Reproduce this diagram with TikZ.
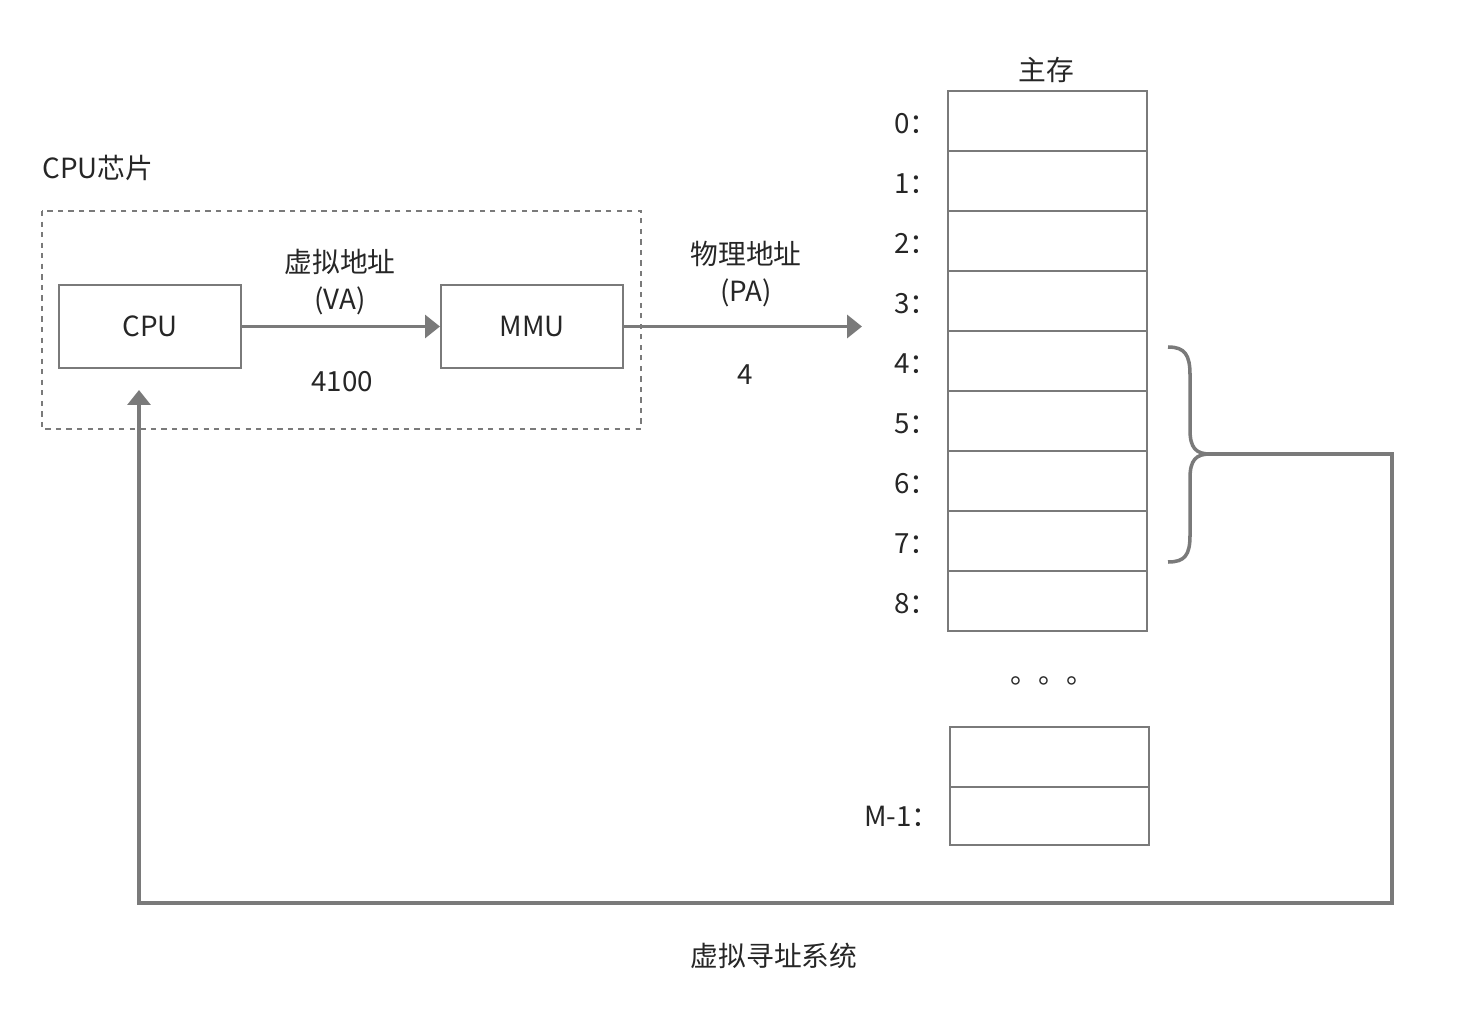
\documentclass[tikz,border=0pt]{standalone}
\usepackage{fontspec}
\setmainfont{Noto Sans CJK SC}
\usetikzlibrary{arrows.meta,positioning}
\definecolor{linegray}{HTML}{7A7A7A}
\definecolor{textgray}{HTML}{262626}

\begin{document}
\begin{tikzpicture}[x=0.02cm, y=-0.02cm,
  >={Triangle[length=8.5pt, width=13pt]},
  font=\fontsize{15.8}{21}\selectfont, text=textgray,
  box/.style={draw=linegray, line width=1.2pt, minimum width=3.64cm,
    minimum height=1.66cm, inner sep=0pt},
  cell/.style={draw=linegray, line width=1.2pt, minimum width=3.98cm,
    minimum height=1.2cm, inner sep=0pt, outer sep=0pt},
  link/.style={draw=linegray, line width=2pt}]

  \useasboundingbox (0,0) rectangle (1462,1030);

  % --- Chip CPU ---
  \node[anchor=west, inner sep=0pt] (chiplabel) at (42,168) {CPU芯片};
  \draw[linegray, line width=0.8pt, dashed] (42,211) rectangle (641,429);

  \node[box] (cpu) at (150,326.5) {CPU};
  \node[box] (mmu) at (532,326.5) {MMU};

  % --- Direcciones ---
  \draw[link, ->] (cpu) -- (mmu);
  \node[align=center] (va) at (340,282) {虚拟地址\\(VA)};
  \node (vaval) at (342,382) {4100};

  \coordinate (pa) at (862,326.5);
  \draw[link, ->] (mmu) -- (pa);
  \node[align=center] (palabel) at (746,274) {物理地址\\(PA)};
  \node (paval) at (745,375) {4};

  % --- Memoria principal ---
  \node (memlabel) at (1046,70) {主存};
  \foreach \i in {0,...,8} {
    \node[cell] (cell\i) at (1047.5,{121+60*\i}) {};
    \node[left=0.2cm of cell\i, inner sep=0pt, yshift=-0.05cm] (addr\i) {\i：};
  }
  \node[anchor=base west, inner sep=0pt, font=\fontsize{16}{18}\selectfont]
    (dots) at (1010,683) {。。。};
  \node[cell] (celltop) at (1049.5,757) {};
  \node[cell, minimum height=1.16cm] (celllast) at (1049.5,816) {};
  \node[left=0.2cm of celllast, inner sep=0pt] (addrlast) {M-1：};

  % --- Llave y retorno a la CPU ---
  \coordinate (bracetip) at (1210,454);
  \draw[link] (1168,347) .. controls (1185,347) and (1190,355) .. (1190,375)
    -- (1190,430) .. controls (1190,448) and (1196,454) .. (bracetip)
    .. controls (1196,454) and (1190,460) .. (1190,478)
    -- (1190,535) .. controls (1190,555) and (1185,562) .. (1168,562);
  \coordinate (cpuin) at (139,390);
  \draw[link, ->] (bracetip) -- (1392,454) -- (1392,903) -- (139,903) -- (cpuin);

  \node (system) at (774,956) {虚拟寻址系统};

\end{tikzpicture}
\end{document}
